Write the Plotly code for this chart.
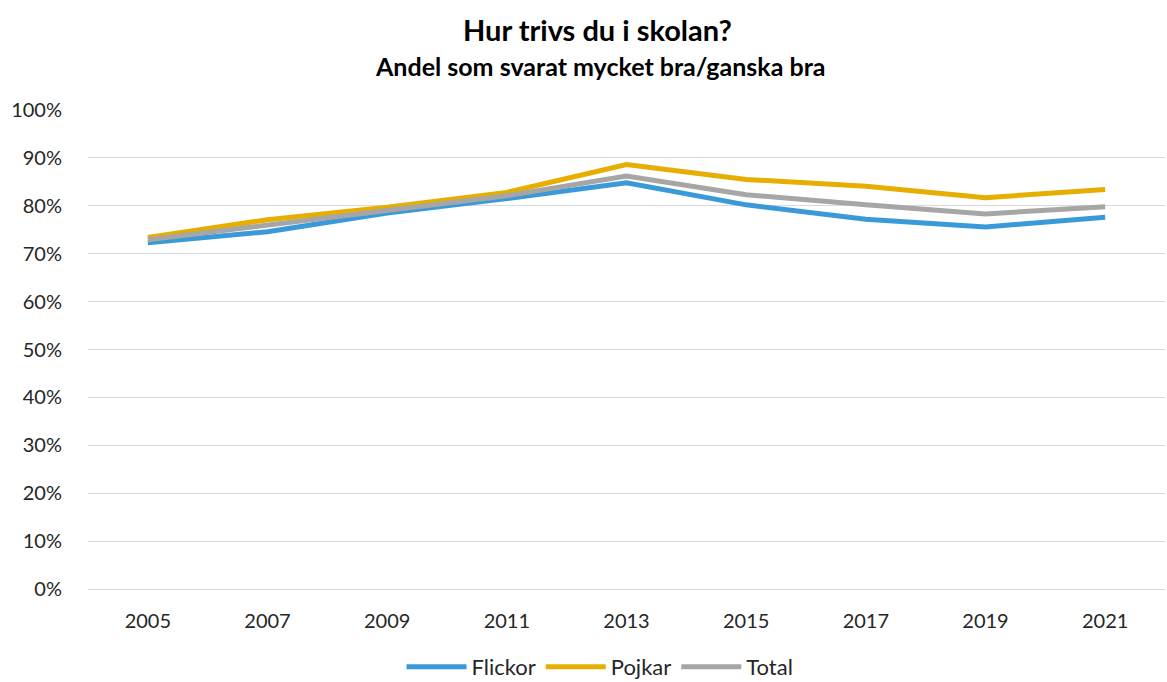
import plotly.graph_objects as go

years = ["2005", "2007", "2009", "2011", "2013", "2015", "2017", "2019", "2021"]
flickor = [0.723, 0.746, 0.785, 0.815, 0.848, 0.802, 0.772, 0.756, 0.776]
pojkar = [0.734, 0.771, 0.797, 0.828, 0.886, 0.855, 0.841, 0.817, 0.834]
total = [0.729, 0.760, 0.792, 0.821, 0.862, 0.823, 0.802, 0.783, 0.798]

series = [("Flickor", flickor, "#3A9AD9"), ("Pojkar", pojkar, "#E6AE00"), ("Total", total, "#A6A6A6")]

fig = go.Figure()
for name, vals, col in series:
    fig.add_trace(go.Scatter(x=years, y=vals, name=name, mode="lines",
                             line=dict(color=col, width=5)))

font = "Lato, 'Open Sans', sans-serif"
PL, PR, PT, PB = 88, 1165, 110, 589
W, H = 1167, 682
pw, ph = PR - PL, PB - PT

fig.update_layout(
    width=W, height=H,
    margin=dict(l=PL, r=W - PR, t=PT, b=H - PB),
    plot_bgcolor="white", paper_bgcolor="white",
    font=dict(family=font, size=20, color="#262626"),
    showlegend=True,
    legend=dict(orientation="h", x=(600 - PL) / pw, xanchor="center",
                yref="container", y=(H - 667) / H, yanchor="middle",
                font=dict(size=22, color="#262626"), itemwidth=60, tracegroupgap=0),
    xaxis=dict(type="category", range=[-0.5, 8.5], showgrid=False, showline=False,
               ticks="", tickfont=dict(size=20), ticklabelstandoff=18, automargin=False),
    yaxis=dict(range=[0, 1.0], dtick=0.1, tickformat=".0%", showgrid=True,
               gridcolor="#D9D9D9", gridwidth=1, zeroline=True, zerolinecolor="#D9D9D9",
               zerolinewidth=1, showline=False, ticks="", tickfont=dict(size=20),
               ticklabelstandoff=25, automargin=False),
    annotations=[
        dict(text="<b>Hur trivs du i skolan?</b>", xref="paper", yref="paper",
             x=(597 - PL) / pw, y=1 + (PT - 29) / ph, xanchor="center", yanchor="middle",
             showarrow=False, font=dict(size=29, color="#000000")),
        dict(text="<b>Andel som svarat mycket bra/ganska bra</b>", xref="paper", yref="paper",
             x=(600 - PL) / pw, y=1 + (PT - 66) / ph, xanchor="center", yanchor="middle",
             showarrow=False, font=dict(size=25, color="#000000")),
    ],
)

fig.write_html("out.html", config={"displayModeBar": False},
               post_script="document.body.style.margin='0px';document.body.style.overflow='hidden';")
